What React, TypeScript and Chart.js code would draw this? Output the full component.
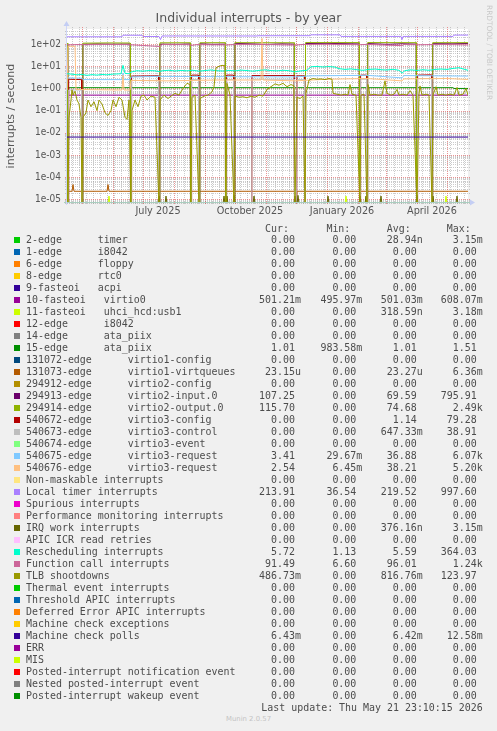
import React, { useEffect, useRef } from 'react';
import { Chart, registerables } from 'chart.js';

Chart.register(...registerables);

type P = [number, number];

// ---- axes ----
const Y_MIN = 6.8e-6;
const Y_MAX = 480;
const ZERO_LEVEL = Y_MIN * 0.9; // where a 0 is drawn on the log axis (just below the plot)
const X_MAX = 401; // days since 16 Apr 2025

const xTickDays = [91, 183, 275, 365];
const xTickLabels = ['July 2025', 'October 2025', 'January 2026', 'April 2026'];
const monthStartDays = [15, 46, 76, 107, 138, 168, 199, 229, 260, 291, 319, 350, 380];
const firstMondayDay = 5;
const yDecades = [1e-5, 1e-4, 1e-3, 1e-2, 1e-1, 1, 10, 100];

// ---- series (day, value) ----
const virtio0Pts: P[] = [[0, 0.5], [401, 0.5]];
const ataPiix15Pts: P[] = [[0, 1.08], [386, 1.08], [387, 1.0], [401, 1.0]];
const mcePollPts: P[] = [[0, 0.0064], [401, 0.0064]];
const virtqueuesPts: P[] = [
  [0, 0], [1, 0], [1.5, 2.3e-5], [5, 2.3e-5], [6, 4.6e-5], [7, 2.3e-5], [40, 2.3e-5], [41, 4.6e-5],
  [42, 2.3e-5], [227.5, 2.3e-5], [228, 0], [229.5, 0], [230, 2.3e-5], [401, 2.3e-5],
];
const virtio2InputPts: P[] = [
  [0, 100], [0.6, 100], [0.9, 0], [15.6, 0], [15.9, 98], [30, 102], [45, 99], [63.2, 101], [63.5, 0],
  [92.6, 0], [92.9, 100], [110, 98], [123.2, 102], [123.5, 0], [132.6, 0], [132.9, 104], [145, 98],
  [158.2, 100], [158.5, 0], [167.6, 0], [167.9, 108], [180, 104], [200, 97], [215, 103], [227.2, 100],
  [227.5, 0], [238.2, 0], [238.5, 106], [260, 108], [280, 104], [292.2, 102], [292.5, 0], [300.4, 0],
  [300.7, 106], [320, 98], [335, 104], [349.2, 100], [349.5, 0], [365.4, 0], [365.7, 105], [385, 103], [401, 107],
];
const virtio2OutputPts: P[] = [
  [0, 112], [0.6, 112], [0.9, 0], [15.6, 0], [15.9, 110], [40, 113], [63.2, 112], [63.5, 0], [92.6, 0],
  [92.9, 114], [123.2, 115], [123.5, 0], [132.6, 0], [132.9, 115], [158.2, 116], [158.5, 0], [167.6, 0],
  [167.9, 116], [227.2, 115], [227.5, 0], [238.2, 0], [238.5, 117], [292.2, 117], [292.5, 0], [300.4, 0],
  [300.7, 117], [349.2, 116], [349.5, 0], [365.4, 0], [365.7, 116], [401, 116],
];
const virtio3ConfigPts: P[] = [
  [0, 0], [1.4, 0], [1.7, 2.6], [14.5, 2.5], [14.8, 0], [64.3, 0], [64.6, 3.6], [91.5, 3.7], [91.8, 0],
  [124.3, 0], [124.6, 4.0], [131.5, 4.0], [131.8, 0], [159.3, 0], [159.6, 4.0], [166.5, 4.0], [166.8, 0],
  [184.8, 0], [185, 3.8], [227.2, 3.8], [227.5, 0], [229.7, 0], [230, 3.7], [237.5, 3.7], [237.8, 0],
  [293.3, 0], [293.6, 4.0], [299.5, 4.0], [299.8, 0], [350.3, 0], [350.6, 4.0], [364.5, 4.1], [364.8, 0], [401, 0],
];
const virtio3ControlPts: P[] = [
  [0, 0], [1.4, 0], [1.7, 0.85], [14.5, 0.85], [14.8, 0], [64.3, 0], [64.6, 2.3], [91.5, 2.3], [91.8, 0],
  [124.3, 0], [124.6, 2.5], [131.5, 2.5], [131.8, 0], [159.3, 0], [159.6, 2.5], [166.5, 2.5], [166.8, 0],
  [184.8, 0], [185, 2.6], [227.2, 2.6], [227.5, 0], [229.7, 0], [230, 2.5], [237.5, 2.5], [237.8, 0],
  [293.3, 0], [293.6, 2.6], [299.5, 2.6], [299.8, 0], [350.3, 0], [350.6, 2.8], [364.5, 2.8], [364.8, 0], [401, 0],
];
const request1Pts: P[] = [
  [0, 3.0], [15, 2.9], [16, 2.5], [55, 2.5], [56, 5], [57, 2.5], [63, 2.5], [64, 3.3], [92, 3.5],
  [160, 3.4], [228, 3.3], [244, 3.7], [300, 3.9], [335, 3.0], [337, 3.8], [401, 3.6],
];
const request2Pts: P[] = [
  [0, 0.85], [1, 80], [8, 80], [9, 0.9], [55, 0.85], [56, 4], [57, 0.85], [63, 0.85], [64, 2.3],
  [100, 2.2], [150, 2.4], [194, 2.4], [195, 180], [196, 2.4], [228, 2.2], [260, 2.6], [300, 2.8],
  [335, 2.2], [337, 2.7], [380, 2.8], [401, 2.54],
];
const localTimerPts: P[] = [
  [0, 214], [55, 214], [56, 252], [75, 250], [76, 220], [92, 220], [93.5, 160], [95, 232], [190, 232],
  [191, 238], [243, 240], [244, 262], [273, 262], [274, 222], [334, 222], [335, 160], [336, 222],
  [386, 222], [387, 255], [401, 255],
];
const reschedPts: P[] = [
  [0, 4.6], [5, 4.4], [10, 4.1], [15, 4.3], [20, 3.9], [25, 4.2], [30, 4.0], [35, 4.3], [40, 4.1],
  [45, 4.4], [50, 4.5], [54, 4.6], [56, 11], [58, 4.8], [62, 4.6], [64, 5.5], [70, 6.3], [76, 6.0],
  [82, 6.4], [88, 6.2], [92, 5.8], [96, 6.3], [102, 6.6], [108, 6.1], [114, 6.5], [120, 6.2],
  [126, 6.6], [132, 6.0], [138, 6.4], [144, 6.8], [150, 6.3], [156, 6.1], [162, 6.5], [168, 6.2],
  [174, 6.7], [180, 6.4], [186, 6.0], [192, 6.5], [198, 6.9], [204, 6.4], [210, 6.2], [216, 6.6],
  [222, 6.3], [228, 5.6], [234, 6.2], [240, 6.6], [244, 9.5], [250, 9.8], [256, 9.3], [262, 9.7],
  [268, 9.2], [272, 7.8], [278, 7.2], [284, 7.6], [290, 7.0], [296, 6.6], [302, 7.2], [308, 7.5],
  [314, 7.0], [320, 6.8], [326, 7.3], [332, 6.6], [335, 4.9], [338, 6.4], [344, 6.9], [350, 6.5],
  [356, 7.0], [362, 6.6], [368, 7.2], [374, 7.5], [380, 7.2], [386, 8.0], [392, 8.6], [396, 7.6], [401, 6.6],
];
const functionCallPts: P[] = [
  [0, 92], [10, 95], [20, 94], [40, 97], [60, 95], [70, 90], [93, 78], [95, 96], [120, 95], [125, 88],
  [130, 95], [160, 92], [170, 97], [200, 96], [228, 90], [235, 96], [260, 98], [293, 94], [300, 97],
  [335, 85], [337, 96], [350, 93], [365, 95], [380, 96], [401, 91.5],
];
const tlbPts: P[] = [
  [0, 0.05], [1, 0], [2, 0.05], [4, 0.3], [5, 0.86], [6, 0.5], [8, 0.75], [10, 0.3], [12, 0.2], [14, 0.05],
  [15, 0], [16, 0.05], [19, 0.08], [21, 0.3], [24, 0.15], [27, 0.25], [30, 0.1], [32, 0.3], [35, 0.2],
  [38, 0.08], [41, 0.06], [44, 0.1], [46, 0.3], [49, 0.15], [52, 0.4], [55, 0.3], [58, 0.05], [60, 0.04],
  [62, 0.3], [64, 0], [65, 0.1], [68, 0.3], [71, 0.15], [74, 0.45], [77, 0.5], [80, 0.3], [84, 0.45],
  [88, 0.4], [92, 0], [93, 0.3], [97, 0.5], [101, 0.35], [104, 0.45], [108, 0.6], [112, 0.5], [116, 1.0],
  [120, 1.7], [123, 1.5], [124, 0], [125, 0.4], [128, 0.5], [132, 0], [133, 0.35], [137, 0.45], [141, 0.5],
  [145, 0.7], [147, 1.2], [149, 8.5], [152, 10], [155, 11], [158, 10.5], [159, 0], [160, 1.7], [163, 0.5],
  [167, 0], [168, 0.45], [172, 0.4], [176, 0.42], [180, 0.38], [184, 0.45], [188, 0.4], [192, 0.5],
  [196, 0.45], [200, 0.9], [204, 1.2], [208, 1.6], [212, 1.4], [216, 1.7], [220, 1.2], [224, 1.5],
  [227, 1.3], [228, 0], [230, 0.4], [233, 0.35], [236, 0.45], [238, 0], [239, 0.6], [242, 2.4], [246, 2.8],
  [250, 2.6], [254, 2.7], [258, 2.5], [262, 2.8], [265, 2.6], [266, 0.6], [270, 0.55], [274, 0.5],
  [278, 0.55], [281, 0.5], [283, 1.5], [285, 0.55], [289, 0.5], [293, 0], [294, 0.5], [297, 0.55],
  [300, 0], [301, 1.5], [303, 0.5], [307, 0.55], [311, 0.5], [315, 0.5], [318, 2.2], [320, 0.6],
  [324, 0.5], [327, 0.55], [330, 0.9], [332, 0.5], [336, 0.55], [340, 0.5], [343, 0.8], [346, 0.5],
  [350, 0], [352, 0.6], [353, 1.3], [355, 0.5], [359, 0.55], [362, 0.5], [365, 0], [366, 0.5], [369, 1.2],
  [371, 0.5], [375, 0.55], [379, 0.5], [383, 0.55], [387, 0.5], [390, 1.1], [392, 0.5], [396, 0.55],
  [399, 1.0], [401, 0.49],
];
const irqWorkSpikes: P[] = [
  [92, 1.4e-5], [99, 1.4e-5], [157, 1.4e-5], [160, 1.4e-5], [167, 1.5e-5], [187, 1.4e-5], [228, 1.4e-5],
  [231, 1.5e-5], [261, 1.4e-5], [293, 1.4e-5], [299, 1.4e-5], [314, 1.4e-5], [350, 1.5e-5], [366, 1.4e-5],
  [390, 1.4e-5],
];
const usbSpikes: P[] = [[1, 1.5e-5], [42, 1.4e-5], [132, 1.4e-5], [279, 1.4e-5], [299, 1.3e-5], [379, 1.4e-5]];

// ---- legend ----
const legendNames = [
  '2-edge      timer', '1-edge      i8042', '6-edge      floppy', '8-edge      rtc0', '9-fasteoi   acpi',
  '10-fasteoi   virtio0', '11-fasteoi   uhci_hcd:usb1', '12-edge      i8042', '14-edge      ata_piix',
  '15-edge      ata_piix', '131072-edge      virtio1-config', '131073-edge      virtio1-virtqueues',
  '294912-edge      virtio2-config', '294913-edge      virtio2-input.0', '294914-edge      virtio2-output.0',
  '540672-edge      virtio3-config', '540673-edge      virtio3-control', '540674-edge      virtio3-event',
  '540675-edge      virtio3-request', '540676-edge      virtio3-request', 'Non-maskable interrupts',
  'Local timer interrupts', 'Spurious interrupts', 'Performance monitoring interrupts', 'IRQ work interrupts',
  'APIC ICR read retries', 'Rescheduling interrupts', 'Function call interrupts', 'TLB shootdowns',
  'Thermal event interrupts', 'Threshold APIC interrupts', 'Deferred Error APIC interrupts',
  'Machine check exceptions', 'Machine check polls', 'ERR', 'MIS', 'Posted-interrupt notification event',
  'Nested posted-interrupt event', 'Posted-interrupt wakeup event',
];
const legendColors = [
  '#00CC00', '#0066B3', '#FF8000', '#FFCC00', '#330099', '#990099', '#CCFF00', '#FF0000', '#808080',
  '#008F00', '#00487D', '#B35A00', '#B38F00', '#6B006B', '#8FB300', '#B30000', '#BEBEBE', '#80FF80',
  '#80C9FF', '#FFC080', '#FFE680', '#AA80FF', '#EE00CC', '#FF8080', '#666600', '#FFBFFF', '#00FFCC',
  '#CC6699', '#999900', '#00CC00', '#0066B3', '#FF8000', '#FFCC00', '#330099', '#990099', '#CCFF00',
  '#FF0000', '#808080', '#008F00',
];
const Z = '0.00';
const legendCur = [Z, Z, Z, Z, Z, '501.21m', Z, Z, Z, '1.01', Z, '23.15u', Z, '107.25', '115.70', Z, Z, Z,
  '3.41', '2.54', Z, '213.91', Z, Z, Z, Z, '5.72', '91.49', '486.73m', Z, Z, Z, Z, '6.43m', Z, Z, Z, Z, Z];
const legendMin = [Z, Z, Z, Z, Z, '495.97m', Z, Z, Z, '983.58m', Z, Z, Z, Z, Z, Z, Z, Z,
  '29.67m', '6.45m', Z, '36.54', Z, Z, Z, Z, '1.13', '6.60', Z, Z, Z, Z, Z, Z, Z, Z, Z, Z, Z];
const legendAvg = ['28.94n', Z, Z, Z, Z, '501.03m', '318.59n', Z, Z, '1.01', Z, '23.27u', Z, '69.59', '74.68',
  '1.14', '647.33m', Z, '36.88', '38.21', Z, '219.52', Z, Z, '376.16n', Z, '5.59', '96.01', '816.76m', Z, Z,
  Z, Z, '6.42m', Z, Z, Z, Z, Z];
const legendMax = ['3.15m', Z, Z, Z, Z, '608.07m', '3.18m', Z, Z, '1.51', Z, '6.36m', Z, '795.91', '2.49k',
  '79.28', '38.91', Z, '6.07k', '5.20k', Z, '997.60', Z, Z, '3.15m', Z, '364.03', '1.24k', '123.97', Z, Z,
  Z, Z, '12.58m', Z, Z, Z, Z, Z];
const legendHeaders = ['Cur:', 'Min:', 'Avg:', 'Max:'];
const lastUpdate = 'Last update: Thu May 21 23:10:15 2026';

// which legend rows are plotted, and with what
const plotted: { row: number; pts: P[] }[] = [
  { row: 5, pts: virtio0Pts },
  { row: 6, pts: spikesToSeries(usbSpikes) },
  { row: 9, pts: ataPiix15Pts },
  { row: 11, pts: virtqueuesPts },
  { row: 13, pts: virtio2InputPts },
  { row: 14, pts: virtio2OutputPts },
  { row: 15, pts: virtio3ConfigPts },
  { row: 16, pts: virtio3ControlPts },
  { row: 18, pts: request1Pts },
  { row: 19, pts: request2Pts },
  { row: 21, pts: localTimerPts },
  { row: 24, pts: spikesToSeries(irqWorkSpikes) },
  { row: 26, pts: reschedPts },
  { row: 27, pts: functionCallPts },
  { row: 28, pts: tlbPts },
  { row: 33, pts: mcePollPts },
];

function spikesToSeries(spikes: P[]): P[] {
  const out: P[] = [[0, 0]];
  for (const [d, v] of spikes) out.push([d - 1, 0], [d, v], [d + 1, 0]);
  out.push([X_MAX, 0]);
  return out;
}

function fmtExp(v: number): string {
  const e = Math.round(Math.log10(v));
  return `1e${e < 0 ? '-' : '+'}${String(Math.abs(e)).padStart(2, '0')}`;
}

const FONT_SANS = 'DejaVu Sans';
const FONT_NARROW = '"Liberation Sans Narrow", "DejaVu Sans Condensed", "DejaVu Sans"';
const TEXT = '#555555';

const rrdPlugin = {
  id: 'rrdLook',
  beforeDraw(chart: any) {
    const { ctx, chartArea: a } = chart;
    ctx.save();
    ctx.fillStyle = '#FFFFFF';
    ctx.fillRect(a.left, a.top, a.right - a.left, a.bottom - a.top);
    ctx.restore();
  },
  beforeDatasetsDraw(chart: any) {
    const { ctx, chartArea: a, scales } = chart;
    const xs = scales.x;
    const ys = scales.y;
    const hline = (v: number) => {
      const y = Math.round(ys.getPixelForValue(v)) + 0.5;
      ctx.beginPath();
      ctx.moveTo(a.left - 2, y);
      ctx.lineTo(a.right + 2, y);
      ctx.stroke();
    };
    const vline = (d: number) => {
      const x = Math.round(xs.getPixelForValue(d)) + 0.5;
      ctx.beginPath();
      ctx.moveTo(x, a.top - 2);
      ctx.lineTo(x, a.bottom + 2);
      ctx.stroke();
    };
    ctx.save();
    ctx.lineWidth = 1;
    ctx.setLineDash([1, 1]);
    ctx.strokeStyle = 'rgba(143,143,143,0.45)';
    for (let e = -6; e <= 2; e++) {
      for (let m = 2; m <= 9; m++) {
        const v = m * Math.pow(10, e);
        if (v > Y_MIN && v < Y_MAX) hline(v);
      }
    }
    for (let d = firstMondayDay; d < X_MAX; d += 7) vline(d);
    ctx.strokeStyle = 'rgba(222,79,79,0.6)';
    yDecades.forEach(hline);
    monthStartDays.forEach(vline);
    ctx.restore();
  },
  afterDatasetsDraw(chart: any) {
    const { ctx, chartArea: a } = chart;
    ctx.save();
    ctx.fillStyle = '#A9CFC0';
    ctx.fillRect(a.left - 3, Math.round(a.bottom) - 1, a.right - a.left + 6, 1);
    ctx.fillStyle = '#CFD6F8';
    ctx.fillRect(Math.round(a.left) - 1, a.top - 3, 1, a.bottom - a.top + 5);
    // arrows
    ctx.fillStyle = '#C4CEF4';
    ctx.beginPath();
    const ax = Math.round(a.left) - 0.5;
    ctx.moveTo(ax, a.top - 8);
    ctx.lineTo(ax - 3, a.top - 3);
    ctx.lineTo(ax + 3, a.top - 3);
    ctx.closePath();
    ctx.fill();
    const ay = Math.round(a.bottom) - 0.5;
    ctx.beginPath();
    ctx.moveTo(a.right + 7, ay);
    ctx.lineTo(a.right + 2, ay - 3);
    ctx.lineTo(a.right + 2, ay + 3);
    ctx.closePath();
    ctx.fill();
    ctx.restore();
  },
};

const colRight = [301, 362.3, 422.7, 482.7];
const mono: React.CSSProperties = {
  position: 'absolute',
  fontFamily: '"DejaVu Sans Mono", monospace',
  fontSize: '9.95px',
  lineHeight: '12px',
  height: 12,
  whiteSpace: 'pre',
  color: '#4c4c4c',
};
const withUnit = (s: string) => (/[a-zA-Z]$/.test(s) ? s : s + ' ');

export default function App() {
  const ref = useRef<HTMLCanvasElement>(null);

  useEffect(() => {
    const datasets = plotted
      .map(({ row, pts }) => ({
        label: legendNames[row],
        data: pts.map(([x, y]) => ({ x, y: y <= 0 ? ZERO_LEVEL : y })),
        borderColor: legendColors[row],
        backgroundColor: legendColors[row],
        borderWidth: 1,
        pointRadius: 0,
        tension: 0,
        fill: false,
        yAxisID: 'y',
        xAxisID: 'x',
      }))
      .reverse(); // later legend rows are drawn on top, as in rrdtool

    const chart = new Chart(ref.current as HTMLCanvasElement, {
      type: 'line',
      data: { datasets },
      plugins: [rrdPlugin],
      options: {
        animation: false,
        responsive: false,
        devicePixelRatio: 1,
        events: [],
        layout: { padding: 0 },
        plugins: {
          legend: { display: false },
          tooltip: { enabled: false },
          title: {
            display: true,
            text: 'Individual interrupts - by year',
            color: TEXT,
            font: { family: FONT_SANS, size: 12.5, weight: 'normal', lineHeight: 1.2 },
            padding: { top: 11.5, bottom: 2.5 },
          },
        },
        scales: {
          x: {
            type: 'linear',
            min: 0,
            max: X_MAX,
            bounds: 'data',
            grid: { display: false, drawTicks: false },
            border: { display: false },
            afterBuildTicks: (s: any) => {
              s.ticks = xTickDays.map((v) => ({ value: v }));
            },
            afterFit: (s: any) => {
              s.height = 27;
            },
            ticks: {
              autoSkip: false,
              maxRotation: 0,
              padding: 3,
              color: TEXT,
              font: { family: FONT_SANS, size: 9.7 },
              callback: (v: any) => {
                const i = xTickDays.indexOf(Number(v));
                return i >= 0 ? xTickLabels[i] : '';
              },
            },
          },
          y: {
            type: 'logarithmic',
            position: 'left',
            min: Y_MIN,
            max: Y_MAX,
            bounds: 'data',
            grid: { display: false, drawTicks: false },
            border: { display: false },
            afterBuildTicks: (s: any) => {
              s.ticks = yDecades.map((v) => ({ value: v }));
            },
            afterFit: (s: any) => {
              s.width = 67;
            },
            ticks: {
              autoSkip: false,
              padding: 6,
              color: TEXT,
              font: { family: FONT_NARROW, size: 10 },
              callback: (v: any) => fmtExp(Number(v)),
            },
            title: {
              display: true,
              text: 'interrupts / second',
              color: TEXT,
              font: { family: FONT_SANS, size: 11.1 },
              padding: { top: 4, bottom: 0 },
            },
          },
          // empty right-hand margin (room for the rrdtool watermark)
          yRight: {
            type: 'linear',
            position: 'right',
            display: true,
            grid: { display: false, drawTicks: false },
            border: { display: false },
            ticks: { display: false },
            afterFit: (s: any) => {
              s.width = 29;
            },
          },
        },
      } as any,
    });
    return () => chart.destroy();
  }, []);

  return (
    <div
      style={{
        position: 'fixed',
        left: 0,
        top: 0,
        width: 497,
        height: 731,
        background: '#F0F0F0',
        overflow: 'hidden',
      }}
    >
      <canvas
        ref={ref}
        width={497}
        height={230}
        style={{ position: 'absolute', left: 0, top: 0, width: 497, height: 230 }}
      />
      <div
        style={{
          position: 'absolute',
          left: 484.5,
          top: 5,
          width: 8,
          writingMode: 'vertical-rl',
          fontFamily: FONT_SANS,
          fontSize: '7.4px',
          lineHeight: '8px',
          color: '#C8C8C8',
          whiteSpace: 'pre',
        }}
      >
        RRDTOOL / TOBI OETIKER
      </div>
      {legendHeaders.map((h, j) => (
        <div key={'h' + j} style={{ ...mono, right: 497 - colRight[j], top: 223.2 }}>
          {h + '  '}
        </div>
      ))}
      {legendNames.map((name, i) => {
        const top = 233.9 + 12 * i;
        const vals = [legendCur[i], legendMin[i], legendAvg[i], legendMax[i]];
        return (
          <React.Fragment key={i}>
            <div
              style={{
                position: 'absolute',
                left: 14,
                top: top + 3,
                width: 6,
                height: 6,
                background: legendColors[i],
              }}
            />
            <div style={{ ...mono, left: 26, top }}>{name}</div>
            {vals.map((v, j) => (
              <div key={j} style={{ ...mono, right: 497 - colRight[j], top }}>
                {withUnit(v)}
              </div>
            ))}
          </React.Fragment>
        );
      })}
      <div style={{ ...mono, right: 497 - 482.7, top: 701.9 }}>{lastUpdate}</div>
      <div
        style={{
          position: 'absolute',
          left: 0,
          width: 497,
          top: 715,
          textAlign: 'center',
          fontFamily: FONT_SANS,
          fontSize: '6.9px',
          lineHeight: '9px',
          color: '#C4C4C4',
        }}
      >
        Munin 2.0.57
      </div>
    </div>
  );
}
